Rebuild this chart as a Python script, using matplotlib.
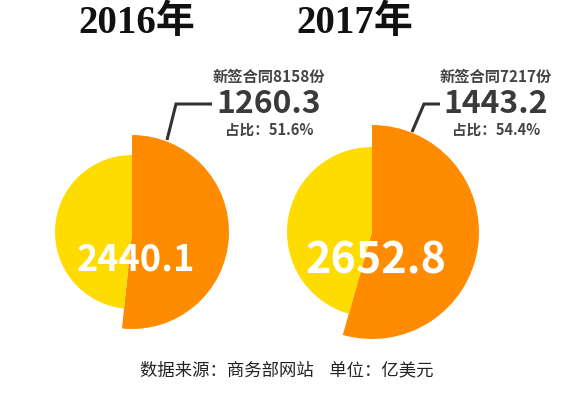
import matplotlib.pyplot as plt

plt.rcParams['font.family'] = ['Noto Sans CJK SC', 'DejaVu Sans']

years = ['2016年', '2017年']
totals = [2440.1, 2652.8]
contract_value = [1260.3, 1443.2]
contract_count = [8158, 7217]
share = ['51.6%', '54.4%']

yellow = '#FFDC00'
orange = '#FF8C00'

W, H = 573, 393
fig = plt.figure(figsize=(W / 100, H / 100), dpi=100)
ax = fig.add_axes([0, 0, 1, 1])

# layout in pixels (y measured from the top)
centers = [(132, 232), (372, 232)]
r_in = [77, 85]
r_out = [97, 107]
title_x = [137, 355]
label_x = [269, 496]
total_fs = [26, 31]
leader = [[(167, 140), (176, 104), (212, 104)],
          [(412, 132), (424, 104), (440, 104)]]

for i in range(2):
    cx, cy = centers[i]
    vals = [contract_value[i], totals[i] - contract_value[i]]
    ax.pie(vals, colors=[orange, 'none'], radius=r_out[i], center=(cx, H - cy),
           startangle=90, counterclock=False, frame=True)
    ax.pie(vals, colors=['none', yellow], radius=r_in[i], center=(cx, H - cy),
           startangle=90, counterclock=False, frame=True)

    ax.text(title_x[i], H - 23, years[i], ha='center', va='center', fontsize=28,
            fontweight='bold', family=['Liberation Serif', 'Noto Sans CJK SC'], color='#111111')

    ax.text(cx + 4, H - cy - 28, f'{totals[i]:.1f}', ha='center', va='center',
            fontsize=total_fs[i], fontweight='bold', color='white')

    ax.text(label_x[i], H - 77, f'新签合同{contract_count[i]}份', ha='center', va='center',
            fontsize=11, fontweight='bold', color='#444444')
    ax.text(label_x[i], H - 104, f'{contract_value[i]:.1f}', ha='center', va='center',
            fontsize=23, fontweight='bold', color='#3a3a3a')
    ax.text(label_x[i], H - 130, f'占比：{share[i]}', ha='center', va='center',
            fontsize=10.5, fontweight='bold', color='#444444')

    xs = [p[0] for p in leader[i]]
    ys = [H - p[1] for p in leader[i]]
    ax.plot(xs, ys, color='#333333', lw=2.2, solid_capstyle='butt', solid_joinstyle='miter')

ax.text(287, H - 370, '数据来源：商务部网站    单位：亿美元', ha='center', va='center',
        fontsize=12.5, fontweight='medium', color='#222222')

ax.set_xlim(0, W)
ax.set_ylim(0, H)
ax.set_aspect('equal')
ax.axis('off')

fig.savefig('out.png', dpi=100)
